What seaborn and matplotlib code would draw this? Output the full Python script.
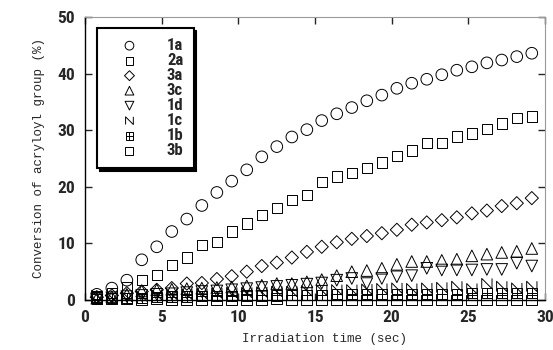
"""
Conversion of acryloyl group vs irradiation time, redrawn with seaborn.
"""

import matplotlib
matplotlib.use("Agg")
import matplotlib.pyplot as plt
from matplotlib.path import Path
import seaborn as sns

# irradiation time (sec), shared by all series
time_sec = [0.77, 1.75, 2.73, 3.70, 4.68, 5.66, 6.64, 7.62, 8.60, 9.57,
            10.55, 11.53, 12.51, 13.49, 14.47, 15.44, 16.42, 17.40, 18.38, 19.36,
            20.34, 21.31, 22.29, 23.27, 24.25, 25.23, 26.21, 27.18, 28.16, 29.14]

# conversion (%)
conv_1a = [1.0, 2.1, 3.5, 7.1, 9.4, 12.1, 14.3, 16.7, 19.0, 21.0,
           23.0, 25.3, 27.1, 28.8, 30.1, 31.7, 32.9, 34.0, 35.2, 36.2,
           37.4, 38.3, 39.0, 39.8, 40.6, 41.2, 41.9, 42.4, 43.0, 43.6]
conv_2a = [0.6, 1.2, 2.2, 3.5, 4.4, 6.2, 7.5, 9.7, 10.3, 12.1,
           13.5, 15.0, 16.2, 17.7, 18.6, 20.9, 21.8, 22.4, 23.3, 24.3,
           25.4, 26.4, 27.7, 27.7, 28.9, 29.4, 30.2, 31.2, 32.1, 32.4]
conv_3a = [0.5, 0.8, 1.2, 1.5, 1.8, 2.1, 2.9, 3.0, 3.7, 4.2,
           5.0, 6.0, 6.6, 7.5, 8.5, 9.4, 10.2, 10.8, 11.3, 11.8,
           12.4, 13.3, 13.7, 14.1, 14.6, 15.3, 15.8, 16.6, 17.1, 18.0]
conv_3c = [0.3, 0.6, 1.0, 1.6, 1.8, 1.9, 2.0, 2.1, 2.2, 2.3,
           2.5, 2.6, 2.9, 2.9, 3.2, 3.6, 4.3, 5.0, 5.2, 5.6,
           6.3, 6.8, 6.8, 7.0, 7.2, 7.8, 8.1, 8.4, 8.6, 9.1]
conv_1d = [0.2, 0.4, 0.6, 0.8, 1.0, 1.1, 1.3, 1.5, 1.6, 1.8,
           2.0, 2.2, 2.4, 2.6, 2.8, 3.0, 3.5, 3.8, 2.9, 3.8,
           4.1, 4.3, 5.6, 5.3, 5.3, 5.3, 5.4, 5.4, 6.5, 6.0]
conv_1c = [0.8, 0.4, 0.6, 0.7, 0.9, 1.0, 1.0, 1.1, 1.2, 1.3,
           1.3, 1.4, 1.5, 1.5, 1.6, 1.7, 1.8, 1.8, 1.9, 2.0,
           2.1, 2.0, 2.1, 2.2, 2.4, 2.0, 2.9, 2.4, 2.1, 2.4]
conv_1b = [0.2, 0.3, 0.4, 0.4, 0.5, 0.6, 0.6, 0.7, 0.7, 0.7,
           0.8, 0.8, 0.8, 0.9, 0.9, 0.9, 1.0, 1.0, 1.0, 1.0,
           1.1, 1.1, 1.1, 1.1, 1.1, 1.2, 1.2, 1.2, 1.2, 1.2]
conv_3b = [0.4, 0.3, 0.2, 0.1, 0.2, 0.1, 0.0, 0.1, 0.0, 0.0,
           0.1, 0.0, 0.2, 0.0, 0.0, 0.0, 0.1, 0.0, 0.0, 0.1,
           0.0, 0.0, 0.0, 0.1, 0.0, 0.0, 0.0, 0.0, 0.0, 0.0]

labels = ["1a", "2a", "3a", "3c", "1d", "1c", "1b", "3b"]
series = [conv_1a, conv_2a, conv_3a, conv_3c, conv_1d, conv_1c, conv_1b, conv_3b]

x_ticks = [0, 5, 10, 15, 20, 25, 30]
y_ticks = [0, 10, 20, 30, 40, 50]

# custom glyphs: "N" box for 1c, boxed cross for 1b
n_marker = Path([(-1, -1), (-1, 1), (1, -1), (1, 1)],
                [Path.MOVETO, Path.LINETO, Path.LINETO, Path.LINETO])
boxplus_marker = Path(
    [(-1, -1), (1, -1), (1, 1), (-1, 1), (-1, -1),
     (0, -1), (0, 1), (-1, 0), (1, 0)],
    [Path.MOVETO, Path.LINETO, Path.LINETO, Path.LINETO, Path.CLOSEPOLY,
     Path.MOVETO, Path.LINETO, Path.MOVETO, Path.LINETO])
markers = ["o", "s", "D", "^", "v", n_marker, boxplus_marker, "s"]
sizes = [70, 55, 45, 70, 70, 55, 55, 60]

sns.set_style("ticks")
narrow = ["Liberation Sans Narrow", "Roboto Condensed", "DejaVu Sans"]
plt.rcParams["font.family"] = narrow
plt.rcParams["font.stretch"] = "condensed"

fig = plt.figure(figsize=(5.53, 3.5), dpi=100)
ax = fig.add_axes([0.1537, 0.1429, 0.8318, 0.8085])

for lab, vals, mk, sz in zip(labels, series, markers, sizes):
    sns.scatterplot(x=time_sec, y=vals, ax=ax, marker=mk, s=sz,
                    color="black", facecolor="none", edgecolor="black",
                    linewidth=0.7, label=lab, clip_on=False, zorder=3)

ax.set_xlim(0, 30)
ax.set_ylim(0, 50)
ax.set_xticks(x_ticks)
ax.set_yticks(y_ticks)
ax.tick_params(direction="in", length=5, width=1, top=True, right=True,
               labelsize=12.5)
ax.tick_params(axis="x", pad=7)
ax.tick_params(axis="y", pad=7)
for t in ax.get_xticklabels() + ax.get_yticklabels():
    t.set_fontweight("bold")
    t.set_fontstretch("condensed")

for side in ["left", "bottom"]:
    ax.spines[side].set_linewidth(1.0)
    ax.spines[side].set_color("black")
for side in ["top", "right"]:
    ax.spines[side].set_visible(True)
    ax.spines[side].set_linewidth(0.8)
    ax.spines[side].set_color("#999999")

mono = ["Liberation Mono", "DejaVu Sans Mono"]
ax.set_xlabel("Irradiation time (sec)", family=mono, fontsize=9)
ax.xaxis.set_label_coords(0.52, -0.115)
ax.set_ylabel("Conversion of acryloyl group (%)", family=mono, fontsize=9,
              labelpad=9)

leg = ax.legend(loc="upper left", bbox_to_anchor=(0.026, 0.961),
                borderaxespad=0, frameon=True, fancybox=False,
                shadow={"color": "black", "alpha": 1},
                handlelength=2.7, handletextpad=0.9, labelspacing=0.0,
                borderpad=0.6, markerscale=0.75,
                prop={"weight": "bold", "size": 12, "stretch": "condensed"})
leg.get_frame().set_edgecolor("black")
leg.get_frame().set_linewidth(1.5)
leg.get_frame().set_facecolor("white")

fig.savefig("out.png", dpi=100)
